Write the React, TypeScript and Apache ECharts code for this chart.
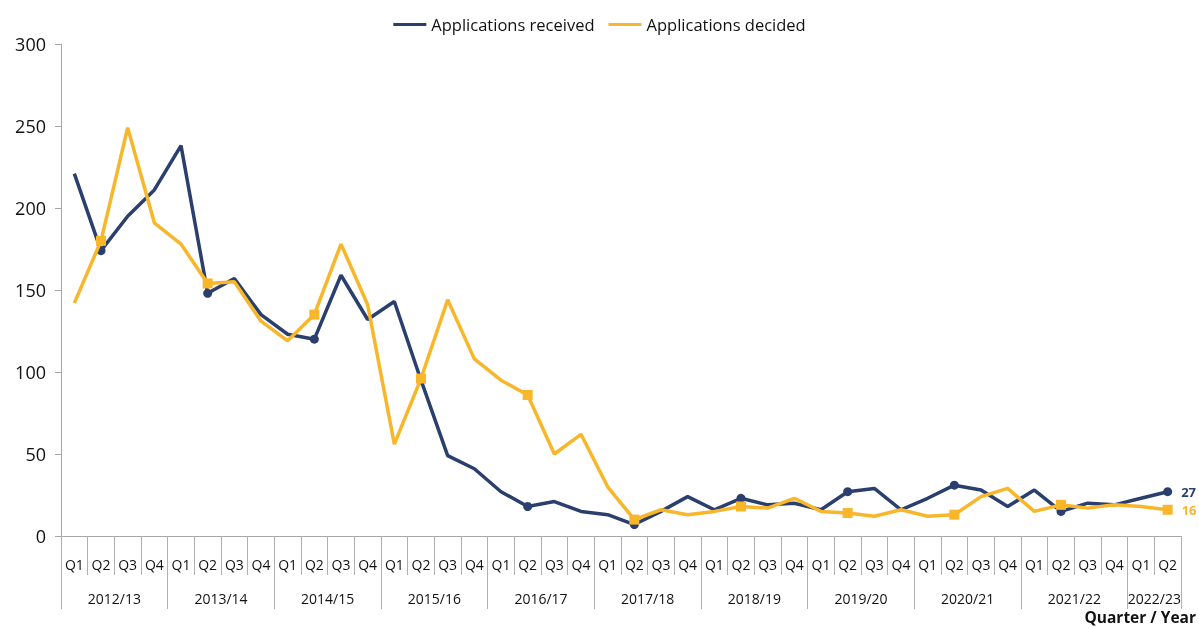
import React, { useEffect, useRef } from 'react';
import * as echarts from 'echarts';

const years = ['2012/13', '2013/14', '2014/15', '2015/16', '2016/17', '2017/18', '2018/19', '2019/20', '2020/21', '2021/22', '2022/23'];
const quartersPerYear = [4, 4, 4, 4, 4, 4, 4, 4, 4, 4, 2];
const quarterNames = ['Q1', 'Q2', 'Q3', 'Q4'];

const received = [221, 174, 195, 211, 238, 148, 157, 135, 123, 120, 159, 132, 143, 95, 49, 41, 27, 18, 21, 15, 13, 7, 15, 24, 16, 23, 19, 20, 16, 27, 29, 16, 23, 31, 28, 18, 28, 15, 20, 19, 23, 27];
const decided = [142, 180, 249, 191, 178, 154, 155, 131, 119, 135, 178, 141, 56, 96, 144, 108, 95, 86, 50, 62, 30, 10, 16, 13, 15, 18, 17, 23, 15, 14, 12, 16, 12, 13, 24, 29, 15, 19, 17, 19, 18, 16];

const yTicks = { min: 0, max: 300, interval: 50 };

const BLUE = '#2A3F6D';
const ORANGE = '#F8B62B';
const FONT = '"Open Sans", "Noto Sans", sans-serif';

export default function App() {
  const ref = useRef<HTMLDivElement>(null);
  useEffect(() => {
    if (!ref.current) return;
    document.body.style.margin = '0';
    document.body.style.overflow = 'hidden';
    const chart = echarts.init(ref.current, undefined, { renderer: 'svg' });

    const quarterCats: string[] = [];
    quartersPerYear.forEach((n) => {
      for (let q = 0; q < n; q++) quarterCats.push(quarterNames[q]);
    });
    // year axis: slot points at quarter boundaries (boundaryGap false)
    const yearSlots: string[] = new Array(quarterCats.length + 1).fill('');
    const yearTickIdx = new Set<number>();
    const yearLabelIdx = new Set<number>();
    let start = 0;
    years.forEach((y, i) => {
      const n = quartersPerYear[i];
      yearTickIdx.add(start);
      const c = start + n / 2;
      yearSlots[c] = y;
      yearLabelIdx.add(c);
      start += n;
    });
    yearTickIdx.add(start);

    const last = quarterCats.length - 1;
    const mk = (arr: number[], color: string) =>
      arr.map((v, i) =>
        i === last
          ? {
              value: v,
              label: {
                show: true,
                position: 'right',
                distance: 9,
                color,
                fontWeight: 'bold',
                fontSize: 13,
                fontFamily: FONT,
              },
            }
          : v
      );

    chart.setOption({
      animation: false,
      textStyle: { fontFamily: FONT },
      grid: { left: 61, right: 18, top: 44, bottom: 92, containLabel: false },
      legend: {
        top: 11,
        left: 'center',
        icon: 'rect',
        itemWidth: 33,
        itemHeight: 3,
        itemGap: 14,
        textStyle: { fontSize: 16.5, color: '#111', fontFamily: FONT },
        data: ['Applications received', 'Applications decided'],
      },
      xAxis: [
        {
          type: 'category',
          data: quarterCats,
          boundaryGap: true,
          axisLine: { show: true, lineStyle: { color: '#A6A6A6', width: 1 } },
          axisTick: { show: true, interval: 0, length: 39, lineStyle: { color: '#B0B0B0' } },
          axisLabel: { interval: 0, margin: 21, fontSize: 14, color: '#111', fontFamily: FONT },
        },
        {
          type: 'category',
          data: yearSlots,
          boundaryGap: false,
          position: 'bottom',
          axisLine: { show: false },
          axisTick: {
            show: true,
            length: 73,
            interval: (idx: number) => yearTickIdx.has(idx),
            lineStyle: { color: '#B0B0B0' },
          },
          axisLabel: {
            interval: (idx: number) => yearLabelIdx.has(idx),
            margin: 55,
            fontSize: 14,
            color: '#111',
            fontFamily: FONT,
          },
        },
      ],
      yAxis: {
        type: 'value',
        min: yTicks.min,
        max: yTicks.max,
        interval: yTicks.interval,
        splitLine: { show: false },
        axisLine: { show: true, lineStyle: { color: '#A6A6A6' } },
        axisTick: { show: true, length: 6, lineStyle: { color: '#A6A6A6' } },
        axisLabel: { fontSize: 18, color: '#111', margin: 15, fontFamily: FONT },
      },
      graphic: [
        {
          type: 'text',
          right: 3,
          bottom: 3,
          style: { text: 'Quarter / Year', font: `bold 15.5px ${FONT}`, fill: '#111' },
        },
      ],
      series: [
        {
          name: 'Applications received',
          type: 'line',
          data: mk(received, BLUE),
          color: BLUE,
          lineStyle: { width: 3.5, color: BLUE },
          itemStyle: { color: BLUE },
          symbol: 'circle',
          showSymbol: true,
          showAllSymbol: true,
          symbolSize: (_v: any, p: any) => (p.dataIndex % 4 === 1 ? 9 : 0),
          z: 2,
        },
        {
          name: 'Applications decided',
          type: 'line',
          data: mk(decided, ORANGE),
          color: ORANGE,
          lineStyle: { width: 3.5, color: ORANGE },
          itemStyle: { color: ORANGE },
          symbol: 'rect',
          showSymbol: true,
          showAllSymbol: true,
          symbolSize: (_v: any, p: any) => (p.dataIndex % 4 === 1 ? 10 : 0),
          z: 3,
        },
      ],
    });
    return () => chart.dispose();
  }, []);
  return <div ref={ref} style={{ position: 'fixed', left: 0, top: 0, width: 1199, height: 628 }} />;
}
